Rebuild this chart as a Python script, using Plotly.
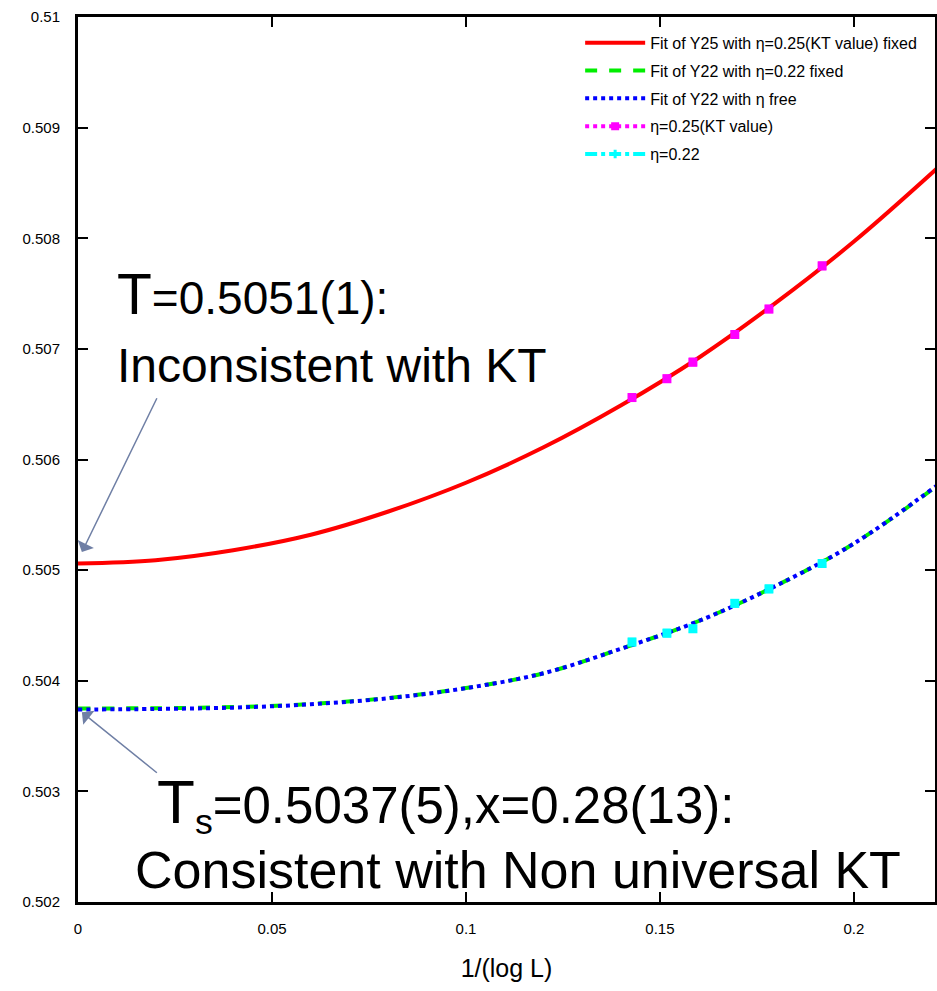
import plotly.graph_objects as go

# ---- data ----
fit_x = [0, 0.02, 0.04, 0.06, 0.08, 0.10, 0.12, 0.14, 0.16, 0.18, 0.20, 0.2214]
fit_y25 = [0.50506, 0.50509, 0.50518, 0.50532, 0.50553, 0.50579, 0.50611,
           0.50649, 0.50692, 0.50742, 0.50797, 0.50863]
fit_y22_fixed = [0.50375, 0.503752, 0.503762, 0.50379, 0.503844, 0.503934,
                 0.504068, 0.50429, 0.50454, 0.50486, 0.50524, 0.505760]
fit_y22_free = [0.50374, 0.503745, 0.503757, 0.503787, 0.503842, 0.503933,
                0.504068, 0.50429, 0.50454, 0.50486, 0.50524, 0.505765]

data_x = [0.1428, 0.1518, 0.1585, 0.1693, 0.1781, 0.1918]
kt_y = [0.50656, 0.50673, 0.50688, 0.50713, 0.50736, 0.50775]
kt_err = [0.00003, 0.00003, 0.00003, 0.00003, 0.00003, 0.00003]
eta22_y = [0.50435, 0.50443, 0.50447, 0.50470, 0.50483, 0.50506]
eta22_err = [0.00003, 0.00003, 0.00003, 0.00003, 0.00003, 0.00003]

x_ticks = [0, 0.05, 0.1, 0.15, 0.2]
x_tick_text = ["0", "0.05", "0.1", "0.15", "0.2"]
y_ticks = [0.502, 0.503, 0.504, 0.505, 0.506, 0.507, 0.508, 0.509, 0.51]
y_tick_text = ["0.502", "0.503", "0.504", "0.505", "0.506", "0.507", "0.508", "0.509", "0.51"]

ARIAL = "Liberation Sans, Arial, sans-serif"

fig = go.Figure()

fig.add_trace(go.Scatter(
    x=fit_x, y=fit_y25, mode="lines", line=dict(color="#ff0000", width=4, shape="spline"),
    name="Fit of Y25 with \u03b7=0.25(KT value) fixed", legendrank=1, legendgroup="a"))
fig.add_trace(go.Scatter(
    x=fit_x, y=fit_y22_fixed, mode="lines",
    line=dict(color="#00ee00", width=4, dash="dash", shape="spline"),
    name="Fit of Y22 with \u03b7=0.22 fixed", legendrank=2, legendgroup="b"))
fig.add_trace(go.Scatter(
    x=fit_x, y=fit_y22_free, mode="lines",
    line=dict(color="#0000ff", width=4, dash="dot", shape="spline"),
    name="Fit of Y22 with \u03b7 free", legendrank=3, legendgroup="c"))

# data points (markers only on the plot)
fig.add_trace(go.Scatter(
    x=data_x, y=kt_y, mode="markers",
    marker=dict(color="#ff00ff", size=9, symbol="square"),
    error_y=dict(type="data", array=kt_err, color="#ff00ff", thickness=2, width=4),
    showlegend=False, legendgroup="d"))
fig.add_trace(go.Scatter(
    x=data_x, y=eta22_y, mode="markers",
    marker=dict(color="#00ffff", size=9, symbol="square"),
    error_y=dict(type="data", array=eta22_err, color="#00ffff", thickness=2, width=4),
    showlegend=False, legendgroup="e"))

# legend entries for the data sets
fig.add_trace(go.Scatter(
    x=[None], y=[None], mode="lines+markers",
    line=dict(color="#ff00ff", width=4, dash="dot"),
    marker=dict(color="#ff00ff", size=8, symbol="square"),
    name="\u03b7=0.25(KT value)", legendrank=4, legendgroup="d"))
fig.add_trace(go.Scatter(
    x=[None], y=[None], mode="lines+markers",
    line=dict(color="#00ffff", width=4, dash="dashdot"),
    marker=dict(color="#00ffff", size=6, symbol="line-ns-open", line=dict(width=3, color="#00ffff")),
    name="\u03b7=0.22", legendrank=5, legendgroup="e"))

arrow_color = "#6f7fa5"
fig.add_annotation(x=0.001, y=0.505163, xref="x", yref="y", text=" ",
                   showarrow=True, arrowhead=1, arrowsize=2, arrowwidth=1.5,
                   arrowcolor=arrow_color, ax=78, ay=-160)
fig.add_annotation(x=0.001, y=0.503716, xref="x", yref="y", text=" ",
                   showarrow=True, arrowhead=1, arrowsize=2, arrowwidth=1.5,
                   arrowcolor=arrow_color, ax=78, ay=63)

texts = [
    ("<span style='font-size:57px'>T</span>=0.5051(1):", 0.0095, 0.50750, 46),
    ("Inconsistent with KT", 0.0095, 0.50685, 48),
    ("<span style='font-size:62px'>T</span><sub>s</sub>=0.5037(5),x=0.28(13):", 0.0198, 0.50288, 51),
    ("Consistent with Non universal KT", 0.0142, 0.50229, 52),
]
for t, xx, yy, fs in texts:
    fig.add_annotation(x=xx, y=yy, xref="x", yref="y", text=t, showarrow=False,
                       xanchor="left", yanchor="middle",
                       font=dict(family=ARIAL, size=fs, color="#000000"))

axis_common = dict(showline=True, linecolor="#000000", linewidth=3, mirror="ticks",
                   ticks="inside", ticklen=10, tickwidth=2, tickcolor="#000000",
                   showgrid=False, zeroline=False, automargin=False,
                   tickfont=dict(family=ARIAL, size=15, color="#000000"))

fig.update_layout(
    width=937, height=991,
    margin=dict(l=78, r=2, t=17, b=89),
    paper_bgcolor="#ffffff", plot_bgcolor="#ffffff",
    xaxis=dict(range=[0, 0.2209], tickvals=x_ticks, ticktext=x_tick_text,
               ticklabelstandoff=11,
               title=dict(text="1/(log L)", font=dict(family=ARIAL, size=25, color="#000000"),
                          standoff=24),
               **axis_common),
    yaxis=dict(range=[0.502, 0.510], tickvals=y_ticks, ticktext=y_tick_text,
               ticklabelstandoff=12, **axis_common),
    legend=dict(x=0.985, y=0.99, xanchor="right", yanchor="top",
                bgcolor="rgba(0,0,0,0)", font=dict(family=ARIAL, size=16, color="#000000"),
                tracegroupgap=4, itemwidth=60),
    showlegend=True,
)

fig.write_html("out.html", config={"displayModeBar": False},
               post_script="document.body.style.margin='0';")
